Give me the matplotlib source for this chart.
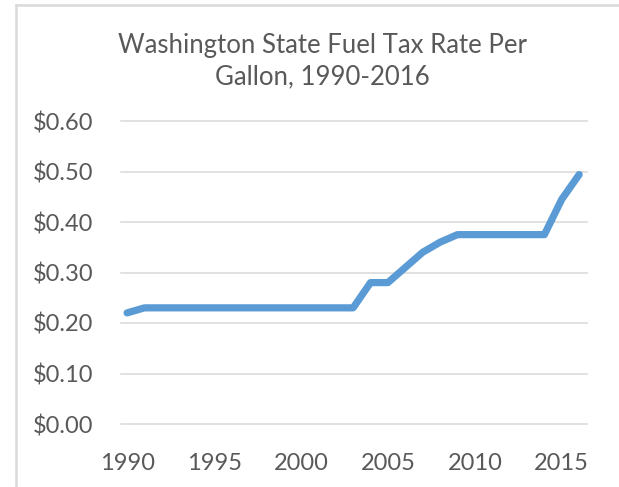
import matplotlib
matplotlib.use('Agg')
import matplotlib.pyplot as plt
from matplotlib.lines import Line2D

# data
years = list(range(1990, 2017))
tax_rate = [0.22, 0.23, 0.23, 0.23, 0.23, 0.23, 0.23, 0.23, 0.23, 0.23,
            0.23, 0.23, 0.23, 0.23, 0.28, 0.28, 0.31, 0.34, 0.36, 0.375,
            0.375, 0.375, 0.375, 0.375, 0.375, 0.445, 0.494]
x_ticks = [1990, 1995, 2000, 2005, 2010, 2015]
y_ticks = [0.0, 0.1, 0.2, 0.3, 0.4, 0.5, 0.6]
title = 'Washington State Fuel Tax Rate Per\nGallon, 1990-2016'

text_col = '#595959'
grid_col = '#D9D9D9'
line_col = '#5B9BD5'

plt.rcParams['font.family'] = ['Lato', 'DejaVu Sans']

W, H = 619, 487
fig = plt.figure(figsize=(W/100, H/100), dpi=100)
ax = fig.add_axes([121/W, 1-424/H, (587-121)/W, (424-121)/H])

ax.plot(years, tax_rate, color=line_col, linewidth=5.2,
        solid_capstyle='round', solid_joinstyle='round', clip_on=False, zorder=3)

ax.set_xlim(1989.65, 2016.45)
ax.set_ylim(0, 0.6)
ax.set_xticks(x_ticks)
ax.set_yticks(y_ticks)
ax.set_yticklabels(['$%.2f' % v for v in y_ticks])
ax.tick_params(axis='both', length=0, labelsize=17, colors=text_col)
ax.tick_params(axis='y', pad=20)
ax.tick_params(axis='x', pad=21)
ax.grid(axis='y', color=grid_col, linewidth=1.1)
for gl in ax.get_ygridlines():
    gl.set_clip_on(False)
for s in ax.spines.values():
    s.set_visible(False)

fig.text(322/W, 1-61/H, title, ha='center', va='center', fontsize=18.5,
         color=text_col, linespacing=1.3)

# chart border (left and top only visible)
fig.add_artist(Line2D([16/W, 16/W], [0, 1-5/H], transform=fig.transFigure,
                      color=grid_col, linewidth=1.8))
fig.add_artist(Line2D([16/W, 1], [1-5/H, 1-5/H], transform=fig.transFigure,
                      color=grid_col, linewidth=1.8))

plt.savefig('out.png', dpi=100)
plt.close()
